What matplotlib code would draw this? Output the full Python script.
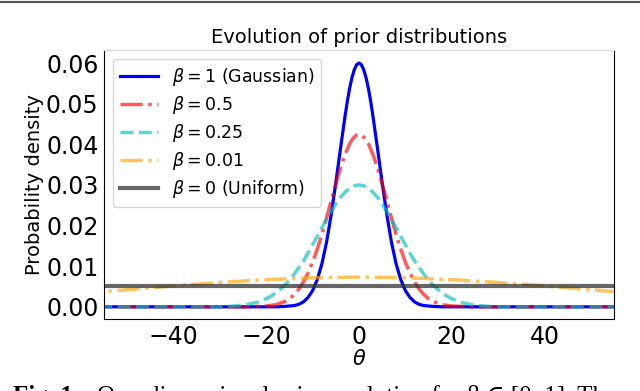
import numpy as np
import matplotlib
matplotlib.use("Agg")
import matplotlib.pyplot as plt
from matplotlib.lines import Line2D

# half curves (theta >= 0), mirrored below
x_gauss = [0, 0.5, 1, 1.5, 2, 2.5, 3, 4, 5, 6, 7, 8, 9, 10, 11, 12, 13, 14, 16, 18, 60]
y_gauss = [0.0600, 0.0596, 0.0584, 0.0565, 0.0539, 0.0507, 0.0470, 0.0389, 0.0305,
           0.0227, 0.0159, 0.0106, 0.0067, 0.0040, 0.0023, 0.0012, 0.0006, 0.0003,
           0.0001, 0.0, 0.0]

x_b05 = [0, 0.5, 1, 1.5, 2, 3, 4, 5, 6, 7, 8, 9, 10, 11, 12, 13, 14, 15, 16, 17, 18,
         20, 22, 24, 60]
y_b05 = [0.0424, 0.0423, 0.0418, 0.0411, 0.0402, 0.0375, 0.0342, 0.0302, 0.0261,
         0.0219, 0.0178, 0.0142, 0.0110, 0.0083, 0.0061, 0.0043, 0.0030, 0.0020,
         0.0013, 0.0009, 0.0005, 0.0002, 0.0001, 0.0, 0.0]

x_b025 = [0, 1, 2, 3, 4, 5, 6, 7, 8, 9, 10, 11, 12, 13, 14, 15, 16, 17, 18, 19, 20,
          22, 24, 26, 28, 30, 60]
y_b025 = [0.0300, 0.0298, 0.0292, 0.0282, 0.0269, 0.0253, 0.0235, 0.0215, 0.0195,
          0.0173, 0.0153, 0.0132, 0.0113, 0.0096, 0.0080, 0.0066, 0.0053, 0.0043,
          0.0034, 0.0026, 0.0020, 0.0011, 0.0006, 0.0003, 0.0001, 0.0, 0.0]

x_b001 = [0, 5, 10, 15, 20, 25, 30, 35, 40, 45, 50, 55, 60]
y_b001 = [0.0073, 0.00725, 0.00713, 0.00694, 0.00667, 0.00635, 0.00598, 0.00557,
          0.00513, 0.00467, 0.00420, 0.00374, 0.00330]

x_unif = [-60, 60]
y_unif = [0.0052, 0.0052]

labels = [r"$\beta = 1$ (Gaussian)", r"$\beta = 0.5$", r"$\beta = 0.25$",
          r"$\beta = 0.01$", r"$\beta = 0$ (Uniform)"]


def mirror(x, y):
    x = np.asarray(x, float)
    y = np.asarray(y, float)
    return np.concatenate([-x[::-1], x[1:]]), np.concatenate([y[::-1], y[1:]])


fig = plt.figure(figsize=(6.4, 3.91), dpi=100)
ax = fig.add_axes([104 / 640, 1 - 319 / 391, 510 / 640, 269 / 391])

xs, ys = mirror(x_gauss, y_gauss)
ax.plot(xs, ys, '-', color='blue', lw=2.3, label=labels[0])
xs, ys = mirror(x_b05, y_b05)
ax.plot(xs, ys, '-.', color='red', alpha=0.65, lw=2.5, label=labels[1])
xs, ys = mirror(x_b025, y_b025)
ax.plot(xs, ys, '--', color='c', alpha=0.65, lw=2.5, label=labels[2])
xs, ys = mirror(x_b001, y_b001)
ax.plot(xs, ys, '-.', color='orange', alpha=0.65, lw=2.5, label=labels[3])
ax.plot(x_unif, y_unif, '-', color='#333333', alpha=0.75, lw=3, label=labels[4])

ax.set_xlim(-55, 55)
ax.set_ylim(-0.003, 0.0632)
ax.set_xticks([-40, -20, 0, 20, 40])
ax.set_yticks([0.0, 0.01, 0.02, 0.03, 0.04, 0.05, 0.06])
ax.tick_params(labelsize=17, length=0, pad=4)
ax.set_title("Evolution of prior distributions", fontsize=14, pad=5)
ax.set_ylabel("Probability density", fontsize=14, labelpad=1)
ax.set_xlabel(r"$\theta$", fontsize=15, labelpad=0)
ax.spines['top'].set_color('#d8d8d8')
ax.legend(loc='upper left', fontsize=12.5, handlelength=2.2, labelspacing=0.35)

# page rule and figure caption (cut off in the source)
fig.add_artist(Line2D([0, 1], [1 - 2 / 391, 1 - 2 / 391], color='#555555', lw=1.5))
fig.text(13 / 640, 1 - 403 / 391, "Fig. 1.", fontsize=18, fontweight='bold',
         family=['Liberation Serif', 'DejaVu Serif'], va='baseline')
fig.text(97 / 640, 1 - 403 / 391, "One-dimensional prior evolution for β ∈ [0, 1]. The",
         fontsize=18, family=['Liberation Serif', 'DejaVu Serif'], va='baseline')

fig.savefig("out.png", dpi=100)
